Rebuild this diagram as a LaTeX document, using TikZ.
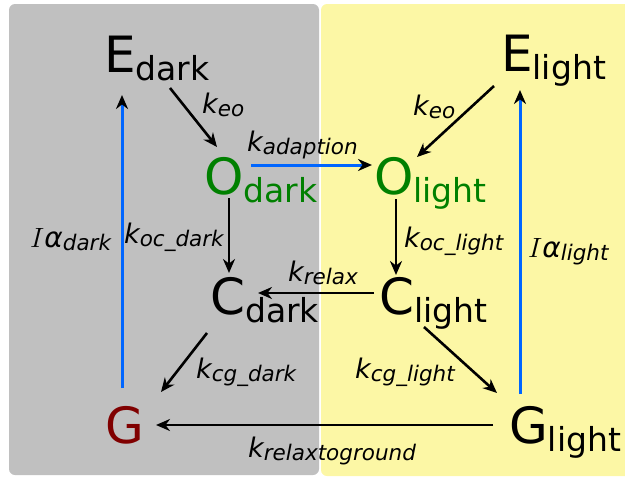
\documentclass[tikz,border=0pt]{standalone}
\usepackage{fontspec}
\setmainfont{DejaVu Sans}
\usetikzlibrary{arrows.meta}
\definecolor{bggray}{RGB}{192,192,192}
\definecolor{bgyellow}{RGB}{252,247,165}
\definecolor{flowblue}{RGB}{0,102,255}
\definecolor{ogreen}{RGB}{0,128,0}
\definecolor{gred}{RGB}{128,0,0}
\newcommand\bigsub[1]{{\fontsize{33}{33}\selectfont\raisebox{-8pt}{#1}}}
\newcommand\ksub[1]{{\fontsize{21.5}{21.5}\selectfont\raisebox{-3pt}{#1}}}
\newcommand\intens{\scalebox{1.12}{$I$}}
\tikzset{
  state/.style={anchor=base west, inner sep=0pt, font=\fontsize{50}{50}\selectfont},
  rate/.style={anchor=base west, inner sep=0pt, font=\fontsize{27}{27}\selectfont\itshape},
  flow/.style={line width=2.6pt, -{Stealth[length=14pt,width=12pt,inset=4.5pt]}},
  lightflow/.style={draw=flowblue, line width=3pt, -{Stealth[length=14pt,width=12pt,inset=4.5pt,color=black]}},
}
\begin{document}
\begin{tikzpicture}[x=1pt,y=-1pt]
\useasboundingbox (0,0) rectangle (625,477);
\begin{scope}
\clip (0,0) rectangle (625,477);
\fill[bgyellow, rounded corners=6pt] (321,4) rectangle (640,476);
\end{scope}
\fill[bggray, rounded corners=6pt] (9,4) rectangle (319,475);

% states
\node[state] (Edark) at (104,72) {E\bigsub{dark}};
\node[state] (Elight) at (501,71) {E\bigsub{light}};
\node[state, text=ogreen] (Odark) at (204,194) {O\bigsub{dark}};
\node[state, text=ogreen] (Olight) at (374,194) {O\bigsub{light}};
\node[state] (Cdark) at (210,314) {C\bigsub{dark}};
\node[state] (Clight) at (379,314) {C\bigsub{light}};
\node[state, text=gred] (G) at (105,443) {G};
\node[state] (Glight) at (509,443) {G\bigsub{light}};

% rate labels
\node[rate] (l1) at (202,113) {k\ksub{eo}};
\node[rate] (l2) at (413,115) {k\ksub{eo}};
\node[rate] (l3) at (247,151) {k\ksub{adaption}};
\node[rate] (l4) at (124,243) {k\ksub{oc\_dark}};
\node[rate] (l5) at (404,247) {k\ksub{oc\_light}};
\node[rate] (l6) at (288,281) {k\ksub{relax}};
\node[rate] (l7) at (196,378) {k\ksub{cg\_dark}};
\node[rate] (l8) at (355,378) {k\ksub{cg\_light}};
\node[rate] (l9) at (248,457) {k\ksub{relaxtoground}};
\node[rate, font=\fontsize{28}{28}\selectfont\itshape] (l10) at (30,247) {\intens α\ksub{dark}};
\node[rate, font=\fontsize{28}{28}\selectfont\itshape] (l11) at (528,257) {\intens α\ksub{light}};

% connectors
\draw[flow] ([shift={(66,16)}]Edark.base west) -- ([shift={(13,-47)}]Odark.base west);
\draw[flow] ([shift={(-7,15)}]Elight.base west) -- ([shift={(43,-37)}]Olight.base west);
\draw[lightflow] ([shift={(47,-29)}]Odark.base west) -- ([shift={(-2,-29)}]Olight.base west);
\draw[flow] ([shift={(25,4)}]Odark.base west) -- ([shift={(19,-41)}]Cdark.base west);
\draw[flow] ([shift={(22,5)}]Olight.base west) -- ([shift={(17,-39)}]Clight.base west);
\draw[flow] ([shift={(-5,-21)}]Clight.base west) -- ([shift={(48,-21)}]Cdark.base west);
\draw[flow] ([shift={(-3,19)}]Cdark.base west) -- ([shift={(56,-51)}]G.base west);
\draw[flow] ([shift={(45,13)}]Clight.base west) -- ([shift={(-12,-50)}]Glight.base west);
\draw[flow] ([shift={(-16,-18)}]Glight.base west) -- ([shift={(51,-18)}]G.base west);
\draw[lightflow] ([shift={(17,-55)}]G.base west) -- ([shift={(18,23)}]Edark.base west);
\draw[lightflow] ([shift={(11,-49)}]Glight.base west) -- ([shift={(19,19)}]Elight.base west);
\end{tikzpicture}
\end{document}
